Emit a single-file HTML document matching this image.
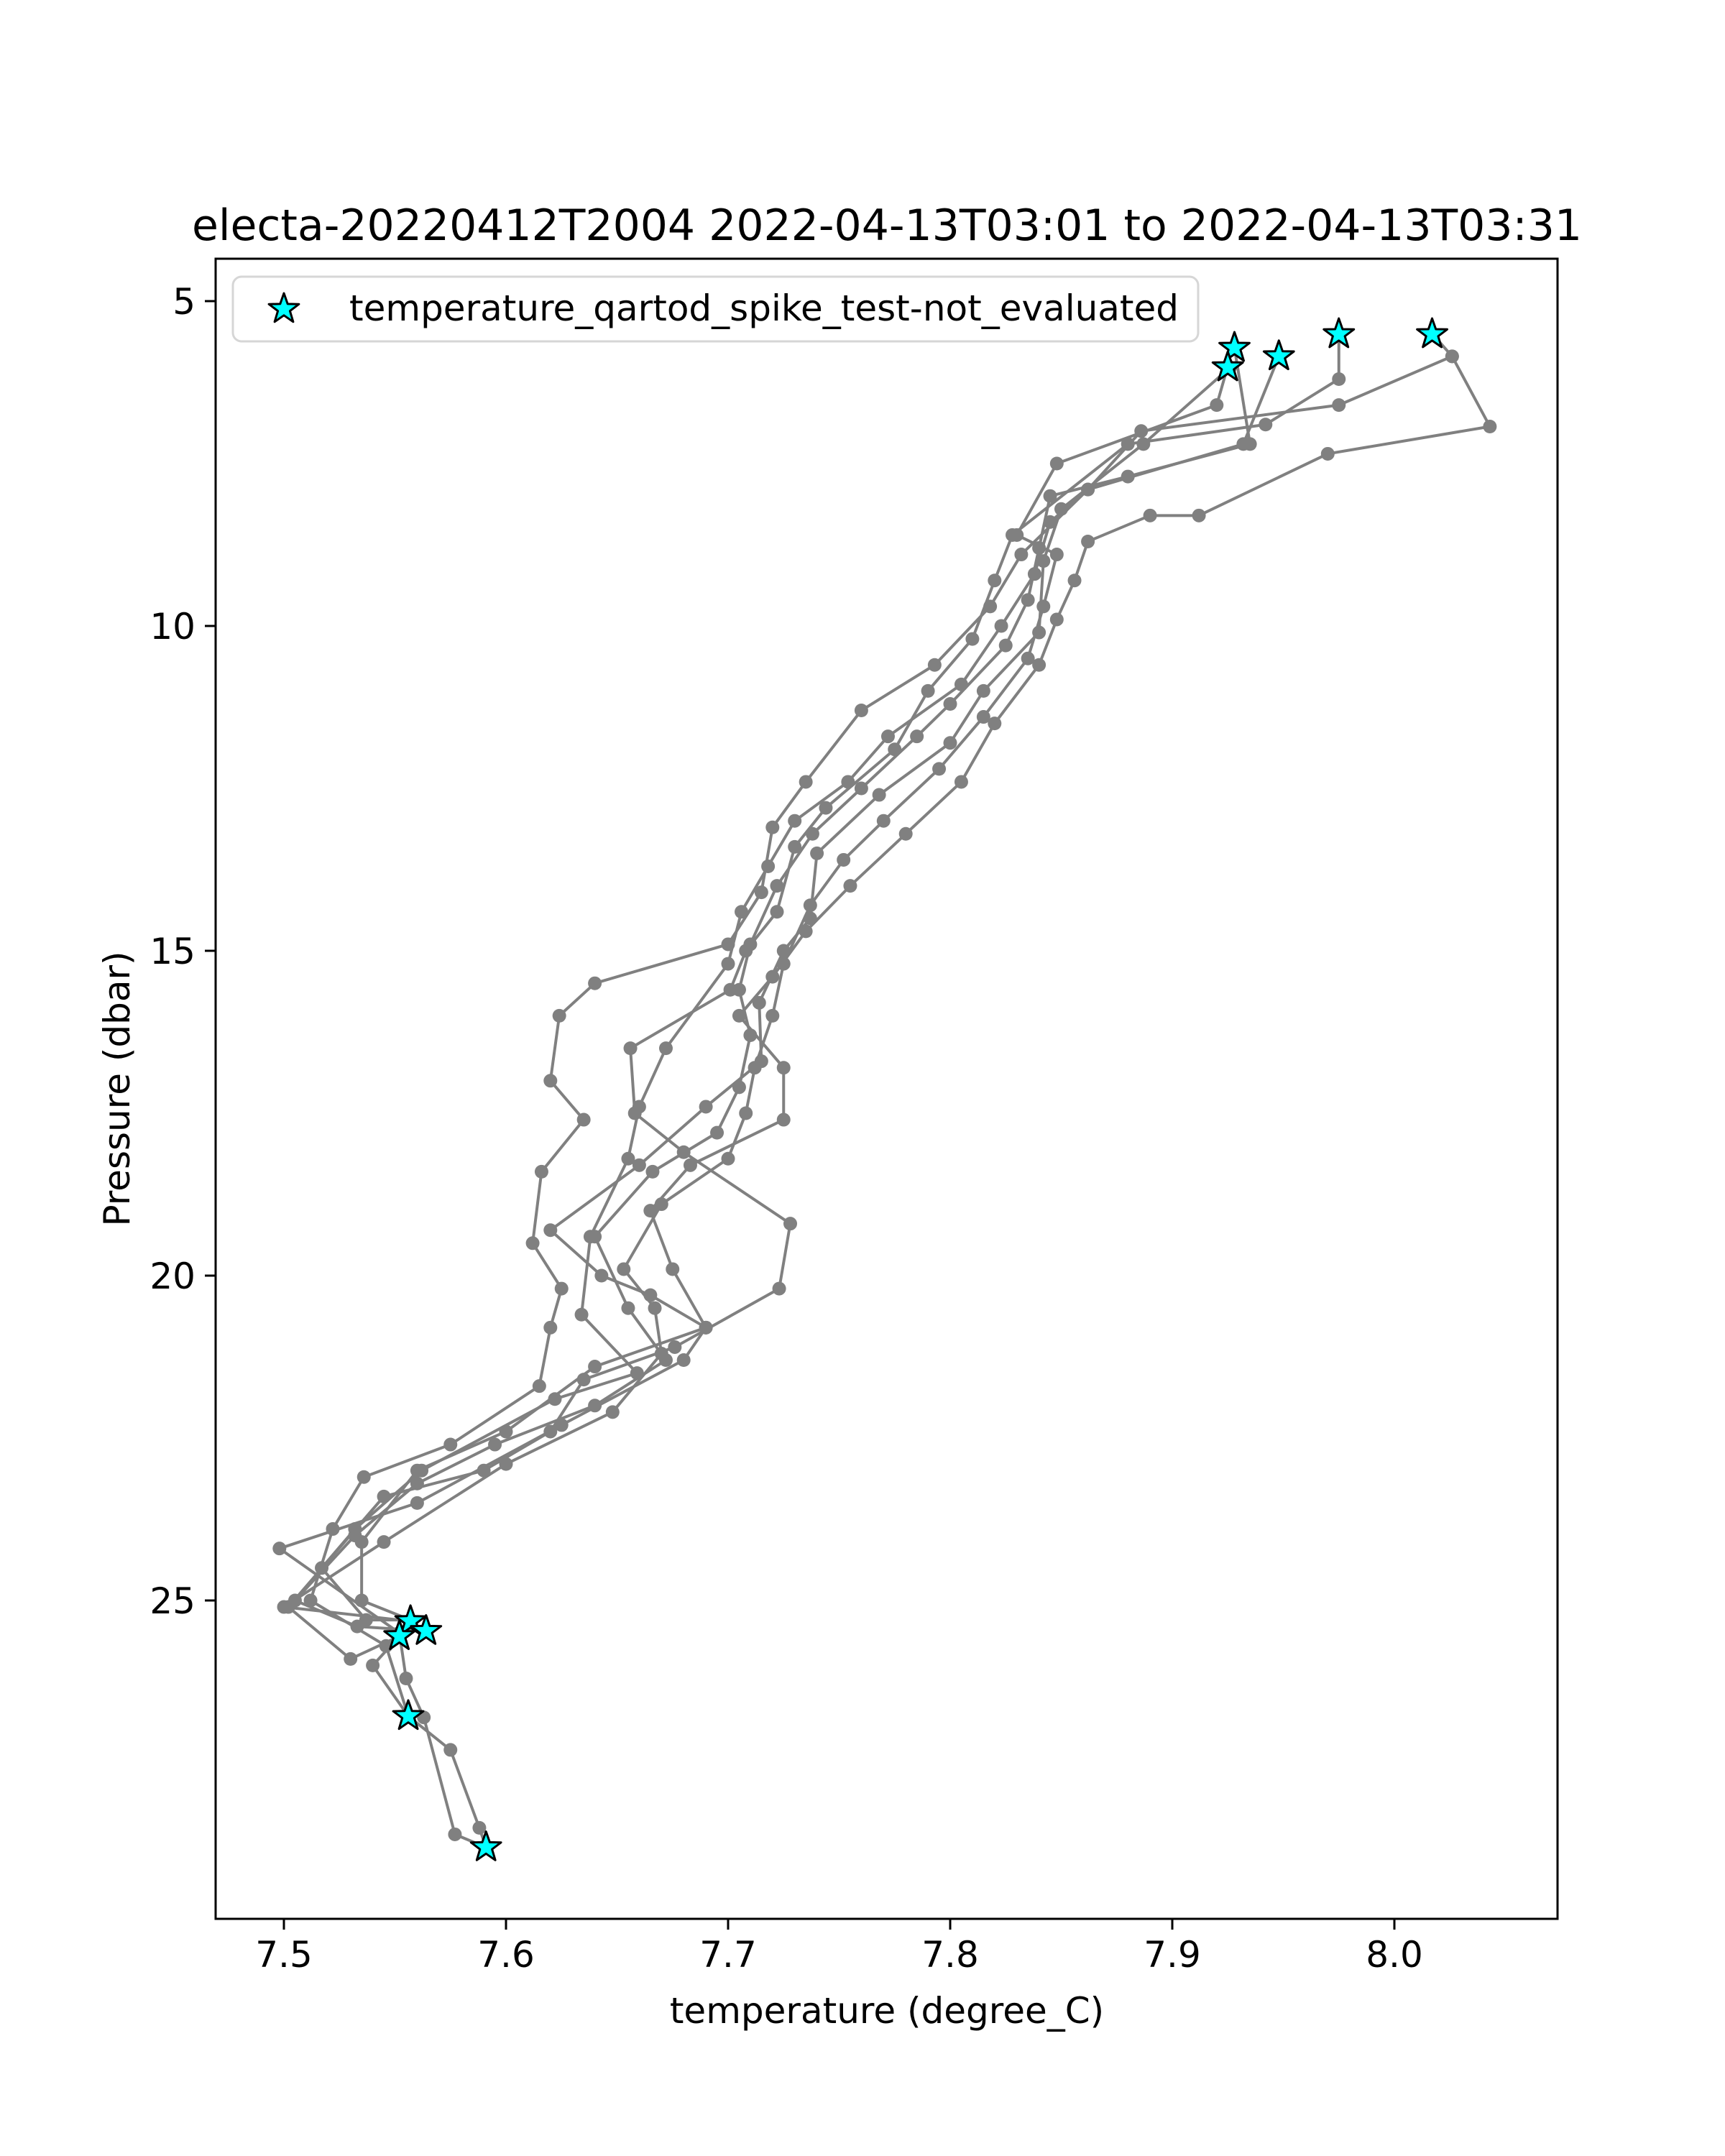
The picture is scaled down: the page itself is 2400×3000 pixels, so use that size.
<!DOCTYPE html>
<html><head><meta charset="utf-8"><style>body{margin:0;background:#fff}svg{display:block;font-family:"DejaVu Sans","Liberation Sans",sans-serif}</style></head>
<body>
<svg id="chart" width="2400" height="3000" viewBox="0 0 2400 3000" xmlns="http://www.w3.org/2000/svg">
<rect width="2400" height="3000" fill="#fff"/>
<g id="plot"></g>
<g id="axes"></g>
</svg>
<script>
const xTicks=[7.5,7.6,7.7,7.8,7.9,8.0];
const xTickLabels=["7.5","7.6","7.7","7.8","7.9","8.0"];
const yTicks=[5,10,15,20,25];
const yTickLabels=["5","10","15","20","25"];
const profile0=[[8.017,5.5],[8.026,5.85],[7.975,6.6],[7.886,7.0],[7.862,7.9],[7.845,8.4],[7.838,9.2],[7.823,10.0],[7.805,10.9],[7.772,11.7],[7.754,12.4],[7.730,13.0],[7.718,13.7],[7.706,14.4],[7.700,15.2],[7.672,16.5],[7.660,17.4],[7.655,18.2],[7.638,19.4],[7.634,20.6],[7.659,21.5],[7.622,21.9],[7.562,23.0],[7.532,23.9],[7.517,24.5],[7.537,25.3],[7.557,25.3]];
const profile1=[[7.557,25.32],[7.500,25.1],[7.545,24.1],[7.600,22.9],[7.648,22.1],[7.670,21.2],[7.667,20.5],[7.653,19.9],[7.670,18.9],[7.700,18.2],[7.708,17.5],[7.712,16.8],[7.720,16.0],[7.725,15.2],[7.737,14.3],[7.752,13.6],[7.770,13.0],[7.795,12.2],[7.815,11.4],[7.835,10.5],[7.842,9.7],[7.848,8.9],[7.830,8.6],[7.848,7.5],[7.920,6.6],[7.925,6.0]];
const profile2=[[7.928,5.72],[7.935,7.2],[7.880,7.7],[7.845,8.0],[7.840,8.8],[7.835,9.6],[7.825,10.3],[7.800,11.2],[7.785,11.7],[7.760,12.5],[7.738,13.2],[7.722,14.0],[7.710,14.9],[7.705,15.6],[7.710,16.3],[7.705,17.1],[7.695,17.8],[7.666,18.4],[7.640,19.4],[7.655,20.5],[7.672,21.3],[7.640,22.0],[7.595,22.6],[7.560,23.2],[7.532,24.0],[7.505,25.0],[7.533,25.4],[7.564,25.47]];
const profile3=[[7.552,25.55],[7.540,26.0],[7.556,26.78],[7.575,27.3],[7.588,28.5],[7.591,28.8]];
const profile4=[[7.591,28.8],[7.577,28.6],[7.563,26.8],[7.555,26.2],[7.552,25.5],[7.498,24.2],[7.560,23.5],[7.625,22.3],[7.680,21.3],[7.690,20.8],[7.675,19.9],[7.665,19.0],[7.683,18.3],[7.725,17.6],[7.725,16.8],[7.705,16.0],[7.720,15.4],[7.735,14.7],[7.755,14.0],[7.780,13.2],[7.805,12.4],[7.820,11.5],[7.840,10.6],[7.848,9.9],[7.856,9.3],[7.862,8.7],[7.890,8.3],[7.912,8.3],[7.970,7.35],[8.043,6.93],[8.026,5.85]];
const profile5=[[7.975,5.51],[7.975,6.2],[7.942,6.9],[7.880,7.2],[7.828,8.6],[7.820,9.3],[7.810,10.2],[7.790,11.0],[7.775,11.9],[7.744,12.8],[7.730,13.4],[7.722,14.4],[7.708,15.0],[7.701,15.6],[7.656,16.5],[7.658,17.5],[7.680,18.1],[7.728,19.2],[7.723,20.2],[7.676,21.1],[7.635,21.6],[7.620,22.4],[7.590,23.0],[7.545,23.4],[7.502,25.1],[7.530,25.9],[7.552,25.55]];
const profile6=[[7.948,5.85],[7.932,7.2],[7.862,7.9],[7.832,8.9],[7.818,9.7],[7.793,10.6],[7.760,11.3],[7.735,12.4],[7.720,13.1],[7.715,14.1],[7.700,14.9],[7.640,15.5],[7.624,16.0],[7.620,17.0],[7.635,17.6],[7.616,18.4],[7.612,19.5],[7.625,20.2],[7.620,20.8],[7.615,21.7],[7.575,22.6],[7.536,23.1],[7.522,23.9],[7.512,25.0],[7.546,25.7],[7.556,26.78]];
const profile7=[[7.926,6.02],[7.887,7.2],[7.850,8.2],[7.842,9.0],[7.840,10.1],[7.815,11.0],[7.800,11.8],[7.768,12.6],[7.740,13.5],[7.737,14.5],[7.725,15.0],[7.714,15.8],[7.715,16.7],[7.690,17.4],[7.660,18.3],[7.620,19.3],[7.643,20.0],[7.665,20.3],[7.690,20.8],[7.640,21.4],[7.600,22.4],[7.560,23.0],[7.535,24.1],[7.535,25.0],[7.557,25.3]];
const profiles=[profile0,profile1,profile2,profile3,profile4,profile5,profile6,profile7];
const flagT=[7.928,7.925,7.948,7.975,8.017,7.557,7.564,7.552,7.556,7.591];
const flagP=[5.72,6.02,5.85,5.51,5.51,25.32,25.47,25.55,26.78,28.8];

const NS="http://www.w3.org/2000/svg";
const L=300,R=2167,T=360,B=2670;
function xs(t){return 395+(t-7.5)*3090;}
function ys(p){return 419+(p-5)*90.4;}
function mk(tag,attrs,parent){const e=document.createElementNS(NS,tag);for(const k in attrs)e.setAttribute(k,attrs[k]);parent.appendChild(e);return e;}
function starPts(cx,cy,ro){const ri=ro*0.4;let s=[];for(let i=0;i<10;i++){const r=i%2?ri:ro;const a=-Math.PI/2+i*Math.PI/5;s.push((cx+r*Math.cos(a)).toFixed(1)+","+(cy+r*Math.sin(a)).toFixed(1));}return s.join(" ");}
const plot=document.getElementById('plot');
const axes=document.getElementById('axes');
profiles.forEach((pr,i)=>{
  const g=mk('g',{},plot);
  
  
  const pl=mk('polyline',{points:pr.map(d=>xs(d[0])+","+ys(d[1])).join(" "),fill:"none",stroke:"#808080","stroke-width":4,"stroke-linejoin":"round"},g);
  
  
  pr.forEach(d=>{
    const c=mk('circle',{cx:xs(d[0]),cy:ys(d[1]),r:9.5,fill:"#808080"},g);
    
    
  });
});
flagT.forEach((t,i)=>{
  const s=mk('polygon',{points:starPts(xs(t),ys(flagP[i]),22),fill:"#00ffff",stroke:"#000","stroke-width":3,"stroke-linejoin":"round"},plot);
  
  
});
const fr=mk('rect',{x:L,y:T,width:R-L,height:B-T,fill:"none",stroke:"#000","stroke-width":3},axes);


xTicks.forEach((v,i)=>{
  const x=xs(v);
  const tk=mk('line',{x1:x,x2:x,y1:B,y2:B+15,stroke:"#000","stroke-width":3},axes);
  
  
  const tx=mk('text',{x:x,y:2737,"text-anchor":"middle","font-size":50},axes);
  tx.textContent=xTickLabels[i];
  
  
});
yTicks.forEach((v,i)=>{
  const y=ys(v);
  const tk=mk('line',{x1:L-15,x2:L,y1:y,y2:y,stroke:"#000","stroke-width":3},axes);
  
  
  const tx=mk('text',{x:L-28,y:y+18,"text-anchor":"end","font-size":50},axes);
  tx.textContent=yTickLabels[i];
  
  
});
const ti=mk('text',{x:1234,y:334,"text-anchor":"middle","font-size":60},axes);
ti.textContent="electa-20220412T2004 2022-04-13T03:01 to 2022-04-13T03:31";


const xl=mk('text',{x:1234,y:2815,"text-anchor":"middle","font-size":50},axes);
xl.textContent="temperature (degree_C)";


const yl=mk('text',{x:180,y:1515,"text-anchor":"middle","font-size":50,transform:"rotate(-90 180 1515)"},axes);
yl.textContent="Pressure (dbar)";


const lg=mk('g',{},axes);


mk('rect',{x:324,y:385,width:1343,height:90,rx:12,fill:"#fff","fill-opacity":0.8,stroke:"#d6d6d6","stroke-width":3},lg);
const ls=mk('polygon',{points:starPts(395,430,22),fill:"#00ffff",stroke:"#000","stroke-width":3,"stroke-linejoin":"round"},lg);


const lt=mk('text',{x:486,y:446,"font-size":50},lg);
lt.textContent="temperature_qartod_spike_test-not_evaluated";


</script>
</body></html>
